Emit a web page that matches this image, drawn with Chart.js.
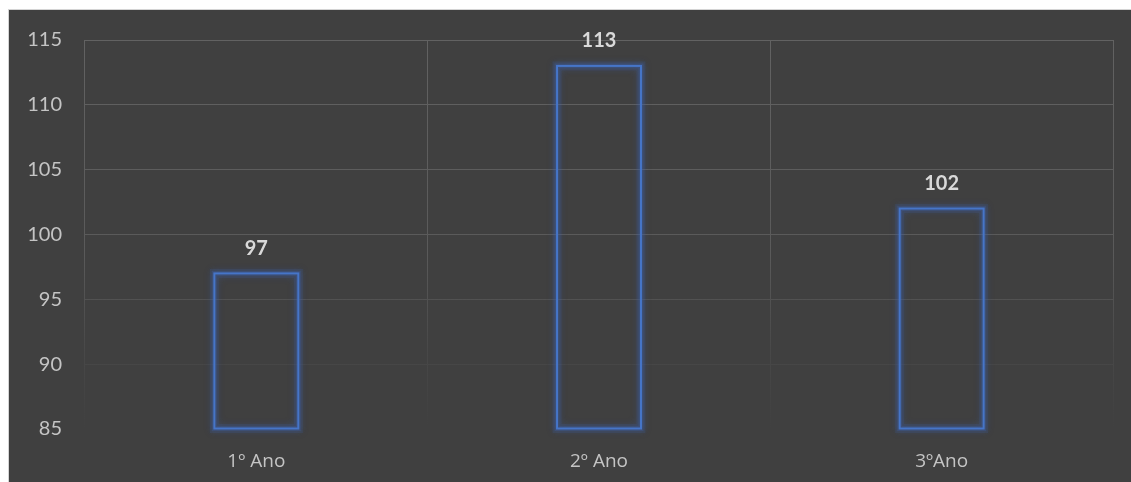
<!DOCTYPE html>
<html>
<head>
<meta charset="utf-8">
<script src="https://cdn.jsdelivr.net/npm/chart.js@4.4.1/dist/chart.umd.min.js"></script>
<style>
  html, body { margin: 0; padding: 0; background: #ffffff; }
  #panel {
    position: absolute; left: 8px; top: 9px; width: 1122px; height: 472px;
    background: #404040; border-left: 1px solid #d4d4d4; border-top: 1px solid #d4d4d4;
  }
  #wrap { position: absolute; left: 0; top: 0; width: 1122px; height: 472px; }
</style>
</head>
<body>
<div id="panel"><div id="wrap"><canvas id="c"></canvas></div></div>
<script>
const categories = ['1º Ano', '2º Ano', '3ºAno'];
const values = [97, 113, 102];
const yMin = 85;
const yMax = 115;
const yStep = 5;

const FONT = 'Lato, "Open Sans", "DejaVu Sans", sans-serif';
const XFONT = '"Open Sans", Lato, "DejaVu Sans", sans-serif';

function fadeGrid(ctx) {
  const chart = ctx.chart;
  const area = chart.chartArea;
  if (!area) return '#585858';
  const g = chart.ctx.createLinearGradient(0, area.top, 0, area.bottom);
  g.addColorStop(0, 'rgba(98,98,98,1)');
  g.addColorStop(0.55, 'rgba(90,90,90,1)');
  g.addColorStop(0.8, 'rgba(72,72,72,1)');
  g.addColorStop(1, 'rgba(64,64,64,1)');
  return g;
}

const glowAndLabels = {
  id: 'glowAndLabels',
  afterDatasetsDraw(chart) {
    const ctx = chart.ctx;
    const area = chart.chartArea;
    const meta = chart.getDatasetMeta(0);
    ctx.save();
    meta.data.forEach((bar, i) => {
      const p = bar.getProps(['x', 'y', 'base', 'width'], true);
      const left = p.x - p.width / 2;
      const base = Math.min(p.base, area.bottom);
      const top = Math.min(p.y, base);
      const h = Math.abs(base - p.y);
      // glow
      ctx.save();
      ctx.shadowColor = 'rgba(60,100,180,0.7)';
      ctx.shadowBlur = 7;
      ctx.strokeStyle = 'rgba(60,100,180,0.16)';
      ctx.lineWidth = 9;
      ctx.strokeRect(left, top, p.width, h);
      ctx.strokeStyle = 'rgba(60,100,180,0.25)';
      ctx.lineWidth = 5;
      ctx.strokeRect(left, top, p.width, h);
      ctx.restore();
      // crisp outline
      ctx.strokeStyle = '#4675c8';
      ctx.lineWidth = 2;
      ctx.strokeRect(left, top, p.width, h);
      // data label
      ctx.fillStyle = '#d9d9d9';
      ctx.font = 'bold 20px ' + FONT;
      ctx.textAlign = 'center';
      ctx.textBaseline = 'middle';
      ctx.fillText(String(values[i]), p.x, p.y - 25);
    });
    ctx.restore();
  }
};

new Chart(document.getElementById('c'), {
  type: 'bar',
  data: {
    labels: categories,
    datasets: [{
      data: values,
      base: yMin,
      backgroundColor: 'rgba(0,0,0,0)',
      borderColor: 'rgba(0,0,0,0)',
      borderWidth: 0,
      categoryPercentage: 1,
      barPercentage: 0.245
    }]
  },
  options: {
    responsive: true,
    maintainAspectRatio: false,
    animation: false,
    events: [],
    layout: { padding: { left: 0, top: 30, right: 18, bottom: 0 } },
    plugins: { legend: { display: false }, tooltip: { enabled: false } },
    scales: {
      x: {
        offset: true,
        grid: { display: true, offset: true, color: fadeGrid, lineWidth: 1, drawTicks: false },
        border: { display: false },
        ticks: { color: '#c4c4c4', font: { family: XFONT, size: 19 }, padding: 21 },
        afterFit(s) { s.height = 53; s.paddingLeft = 0; s.paddingRight = 0; }
      },
      y: {
        min: yMin, max: yMax,
        grid: { color: fadeGrid, lineWidth: 1, drawTicks: false },
        border: { display: false },
        ticks: { stepSize: yStep, color: '#c4c4c4', font: { family: FONT, size: 20 }, padding: 23 },
        afterFit(s) { s.width = 76; s.paddingTop = 0; s.paddingBottom = 0; }
      }
    }
  },
  plugins: [glowAndLabels]
});
</script>
</body>
</html>
